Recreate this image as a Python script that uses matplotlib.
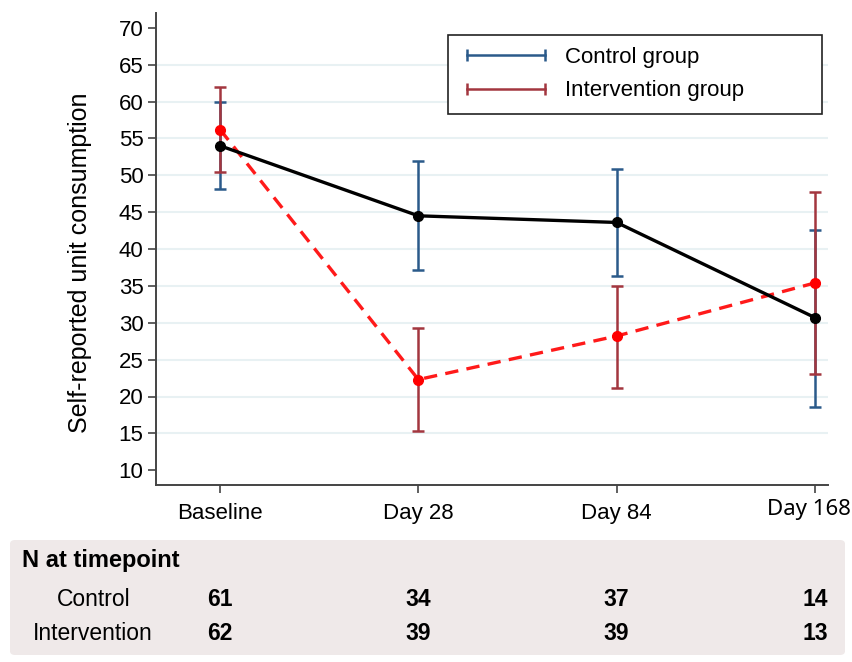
import matplotlib.pyplot as plt
import matplotlib.transforms as mtransforms
from matplotlib.lines import Line2D
from matplotlib.patches import FancyBboxPatch

plt.rcParams['font.family'] = ['Liberation Sans', 'DejaVu Sans']

timepoints = ["Baseline", "Day 28", "Day 84", "Day 168"]

# means with 95% CI bounds
control_mean = [54.0, 44.5, 43.6, 30.7]
control_lo = [48.2, 37.2, 36.4, 18.6]
control_hi = [59.9, 51.9, 50.8, 42.6]
interv_mean = [56.2, 22.3, 28.2, 35.4]
interv_lo = [50.5, 15.3, 21.2, 23.1]
interv_hi = [62.0, 29.3, 35.0, 47.7]

# participants at each timepoint
n_control = [61, 34, 37, 14]
n_interv = [62, 39, 39, 13]

yticks = list(range(10, 75, 5))

BLUE = '#2b5a8a'
MAROON = '#a3363f'
W, H = 852, 662

fig = plt.figure(figsize=(W / 100, H / 100), dpi=100)
ax = fig.add_axes([156 / W, 1 - 485 / H, (828 - 156) / W, (485 - 13) / H])

x = list(range(len(timepoints)))

ax.errorbar(x, control_mean,
            yerr=[[m - lo for m, lo in zip(control_mean, control_lo)],
                  [hi - m for m, hi in zip(control_mean, control_hi)]],
            fmt='none', ecolor=BLUE, elinewidth=1.8, capsize=4.5, capthick=1.8, zorder=2)
ax.errorbar(x, interv_mean,
            yerr=[[m - lo for m, lo in zip(interv_mean, interv_lo)],
                  [hi - m for m, hi in zip(interv_mean, interv_hi)]],
            fmt='none', ecolor=MAROON, elinewidth=1.8, capsize=4.5, capthick=1.8, zorder=3)

ax.plot(x, control_mean, color='black', lw=2.4, marker='o', ms=7, zorder=5)
ax.plot(x, interv_mean, color='#ff1a1a', lw=2.4, ls=(0, (4, 2.5)), marker='o',
        ms=7, mfc='#ff0000', mec='#ff0000', zorder=4)

ax.set_xlim(-0.323, 3.066)
ax.set_ylim(8, 72)
ax.set_xticks(x)
# last label is drawn separately so it stays inside the figure
ax.set_xticklabels(timepoints[:-1] + [""], fontsize=16)
ax.annotate(timepoints[-1], xy=(x[-1], 0), xycoords=('data', 'axes fraction'),
            xytext=(-4.5, -10), textcoords='offset points', ha='center', va='top',
            fontsize=16, family=['Noto Sans', 'DejaVu Sans'])
ax.set_yticks(yticks)
ax.set_yticklabels([str(t) for t in yticks], fontsize=16)
ax.set_ylabel("Self-reported unit consumption", fontsize=18)
ax.yaxis.set_label_coords(-0.095, 0.47)

ax.yaxis.grid(True, color='#e8f1f3', lw=1.5)
ax.set_axisbelow(True)
gl = ax.get_ygridlines()
gl[0].set_visible(False)
gl[-1].set_visible(False)

for s in ['top', 'right']:
    ax.spines[s].set_visible(False)
for s in ['left', 'bottom']:
    ax.spines[s].set_color('#444444')
    ax.spines[s].set_linewidth(1.4)
ax.tick_params(axis='both', color='#444444', length=6, width=1.2, pad=3)
ax.tick_params(axis='x', pad=7)

handles = [
    Line2D([], [], color=BLUE, lw=1.8, marker='|', ms=9, mew=1.8),
    Line2D([], [], color=MAROON, lw=1.8, marker='|', ms=9, mew=1.8),
]
leg = ax.legend(handles, ["Control group", "Intervention group"],
                loc='upper left', mode='expand', numpoints=2,
                bbox_to_anchor=(448 / W, 1 - 112 / H, 374 / W, 77 / H),
                bbox_transform=fig.transFigure, fontsize=16,
                handlelength=4.1, handletextpad=0.6, labelspacing=0.55,
                borderpad=0.55, borderaxespad=0, fancybox=False, framealpha=1)
leg.get_frame().set_edgecolor('#222222')
leg.get_frame().set_linewidth(1.2)

# N-at-timepoint panel under the axis
box = FancyBboxPatch((10 / W, 1 - 655 / H), 835 / W, 115 / H,
                     boxstyle='round,pad=0,rounding_size=0.006',
                     transform=fig.transFigure, facecolor='#efe9e9',
                     edgecolor='none', zorder=0)
fig.patches.append(box)

narrow = ['Liberation Sans Narrow', 'Liberation Sans', 'DejaVu Sans']
fig.text(22 / W, 1 - 561 / H, "N at timepoint", fontsize=17, fontweight='bold',
         family=narrow, va='center', ha='left')
fig.text(94 / W, 1 - 600 / H, "Control", fontsize=16.5, family=narrow,
         va='center', ha='center')
fig.text(93 / W, 1 - 634 / H, "Intervention", fontsize=16.5, family=narrow,
         va='center', ha='center')

trans = mtransforms.blended_transform_factory(ax.transData, fig.transFigure)
for i, (nc, ni) in enumerate(zip(n_control, n_interv)):
    fig.text(i, 1 - 600 / H, str(nc), transform=trans, fontsize=16.5,
             fontweight='bold', family=narrow, ha='center', va='center')
    fig.text(i, 1 - 634 / H, str(ni), transform=trans, fontsize=16.5,
             fontweight='bold', family=narrow, ha='center', va='center')

fig.savefig('out.png', dpi=100)
